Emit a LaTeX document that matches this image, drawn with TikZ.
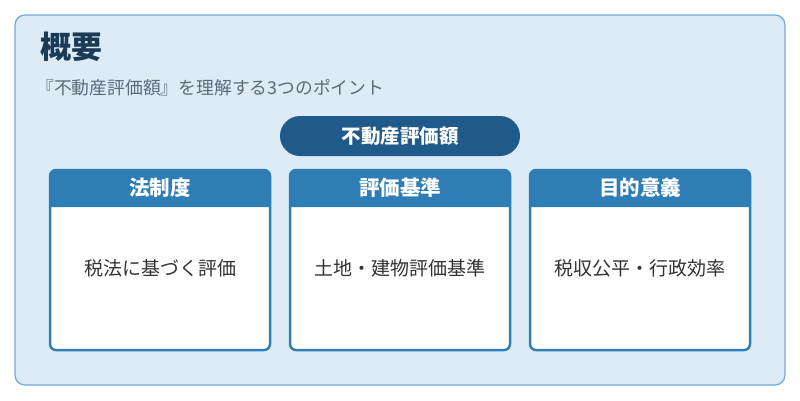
\documentclass[tikz,border=0pt]{standalone}
\usepackage{fontspec}
\setmainfont{Noto Sans CJK JP}
\definecolor{bgc}{HTML}{DCEBF6}
\definecolor{bdc}{HTML}{6FAAD3}
\definecolor{ttl}{HTML}{1B3A55}
\definecolor{sub}{HTML}{5B6B7B}
\definecolor{pill}{HTML}{1F5A8A}
\definecolor{hdr}{HTML}{2E7DB5}
\definecolor{txt}{HTML}{333333}
\begin{document}
\begin{tikzpicture}[x=1pt,y=-1pt,
  hd/.style={text=white,font=\fontsize{20.5}{21}\selectfont\bfseries},
  bt/.style={text=txt,font=\fontsize{19}{19}\selectfont}]
\useasboundingbox (0,0) rectangle (800,400);
\fill[white] (0,0) rectangle (800,400);
\draw[bdc,fill=bgc,line width=1.2,rounded corners=10] (15,15) rectangle (785,385);
\node[anchor=west,inner sep=0,text=ttl,font=\fontsize{31}{31}\selectfont\bfseries] (title) at (40,47) {概要};
\node[anchor=west,inner sep=0,text=sub,font=\fontsize{17.8}{18}\selectfont] (subt) at (36,88) {『不動産評価額』を理解する3つのポイント};
\node[fill=pill,rounded corners=20,minimum width=240,minimum height=40,font=\fontsize{19.5}{20}\selectfont\bfseries,text=white] (pill) at (400,136) {不動産評価額};
\foreach \x/\h/\b [count=\i] in {50/法制度/税法に基づく評価,290/評価基準/土地・建物評価基準,530/目的意義/税収公平・行政効率}{
  \fill[white,rounded corners=6] (\x,170) rectangle ({\x+220},350);
  \fill[hdr] (\x,207) [rounded corners=6]-- (\x,170) -- ({\x+220},170) [sharp corners]-- ({\x+220},207) -- cycle;
  \draw[hdr,line width=2.5,rounded corners=6] (\x,170) rectangle ({\x+220},350);
  \node[hd] (h\i) at ({\x+110},188) {\h};
  \node[bt] (b\i) at ({\x+110},268) {\b};
}
\end{tikzpicture}
\end{document}
